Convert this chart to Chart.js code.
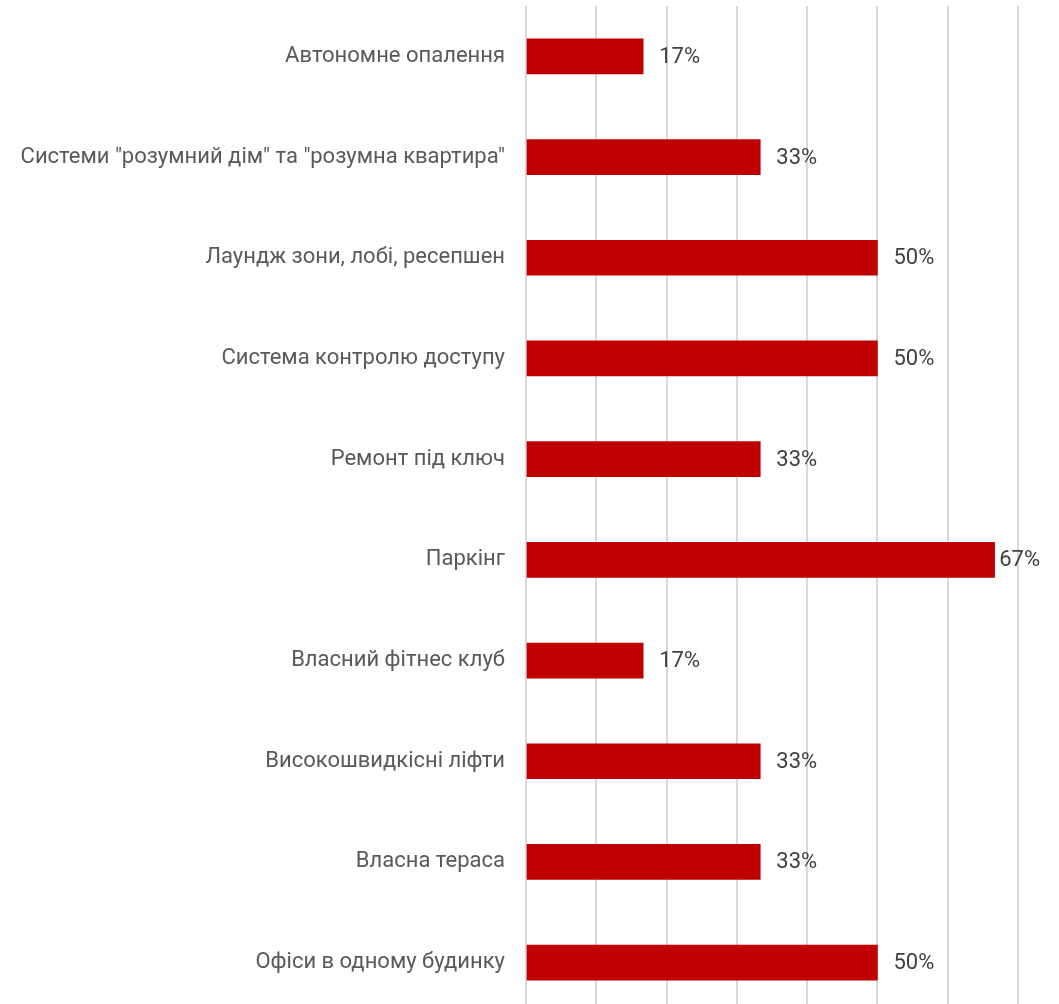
<!DOCTYPE html>
<html>
<head>
<meta charset="utf-8">
<script src="https://cdn.jsdelivr.net/npm/chart.js@4/dist/chart.umd.min.js"></script>
<style>
  html, body { margin: 0; padding: 0; background: #ffffff; overflow: hidden; }
  canvas { display: block; }
</style>
</head>
<body>
<canvas id="c" width="1059" height="1013" style="width:1059px;height:1013px"></canvas>
<script>
const categories = [
  "Автономне опалення",
  "Системи \"розумний дім\" та \"розумна квартира\"",
  "Лаундж зони, лобі, ресепшен",
  "Система контролю доступу",
  "Ремонт під ключ",
  "Паркінг",
  "Власний фітнес клуб",
  "Високошвидкісні ліфти",
  "Власна тераса",
  "Офіси в одному будинку"
];
const values = [0.1667, 0.3333, 0.5, 0.5, 0.3333, 0.6667, 0.1667, 0.3333, 0.3333, 0.5];
const valueLabels = ["17%", "33%", "50%", "50%", "33%", "67%", "17%", "33%", "33%", "50%"];
const xTicks = [0, 0.1, 0.2, 0.3, 0.4, 0.5, 0.6, 0.7];

const FONT = 'Roboto, "Liberation Sans", sans-serif';

const labelPlugin = {
  id: 'valueLabels',
  afterDatasetsDraw(chart) {
    const ctx = chart.ctx;
    const meta = chart.getDatasetMeta(0);
    ctx.save();
    ctx.font = '22px ' + FONT;
    ctx.fillStyle = '#404040';
    ctx.textAlign = 'left';
    ctx.textBaseline = 'middle';
    meta.data.forEach((bar, i) => {
      const p = bar.getProps(['x', 'y'], true);
      const w = ctx.measureText(valueLabels[i]).width;
      const x = Math.min(p.x + 16, chart.width - 19 - w);
      ctx.fillText(valueLabels[i], x, p.y + 1);
    });
    ctx.restore();
  }
};

new Chart(document.getElementById('c'), {
  type: 'bar',
  data: {
    labels: categories,
    datasets: [{
      data: values,
      backgroundColor: '#C00000',
      borderWidth: 0,
      barThickness: 35
    }]
  },
  options: {
    indexAxis: 'y',
    responsive: false,
    animation: false,
    layout: { padding: { top: 6, right: 41, bottom: 0, left: 0 } },
    plugins: { legend: { display: false }, tooltip: { enabled: false } },
    scales: {
      x: {
        min: 0,
        max: 0.7,
        afterBuildTicks(axis) { axis.ticks = xTicks.map(v => ({ value: v })); },
        afterFit(axis) { axis.height = 0; axis.paddingLeft = 0; axis.paddingRight = 0; },
        ticks: { display: false },
        grid: { color: '#d9d9d9', lineWidth: 2, drawTicks: false },
        border: { display: false }
      },
      y: {
        afterFit(axis) { axis.width = 526; axis.paddingTop = 0; axis.paddingBottom = 0; },
        ticks: {
          color: '#595959',
          padding: 21,
          font: { family: FONT, size: 22 }
        },
        grid: { display: false, drawTicks: false },
        border: { display: false }
      }
    }
  },
  plugins: [labelPlugin]
});
</script>
</body>
</html>
